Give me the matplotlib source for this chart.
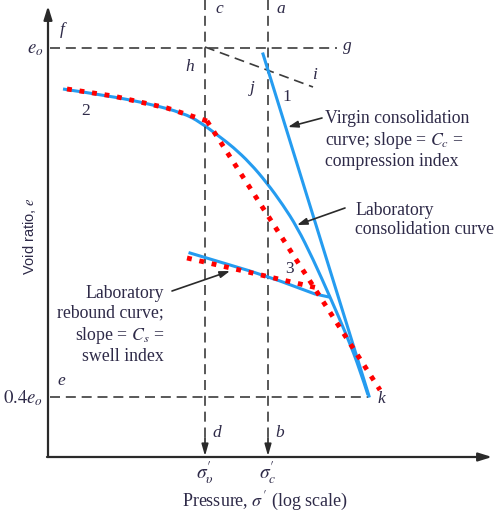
import matplotlib
matplotlib.use("Agg")
import matplotlib.pyplot as plt
from matplotlib.path import Path
from matplotlib.patches import PathPatch

plt.rcParams['mathtext.fontset'] = 'stix'
SERIF = ['Liberation Serif', 'DejaVu Serif']
SANS = ['Liberation Sans', 'DejaVu Sans']

# ---- diagram data (diagram units: x = log pressure position, y = downward void-ratio position) ----
axis_origin = (48, 457)
axis_x_end = 492
axis_y_end = 6

eo_level = 48
e04_level = 397
sigma_v_x = 205
sigma_c_x = 268

# laboratory consolidation curve (blue) - control points of a smooth curve
lab_x = [63, 110, 150, 183, 200, 220, 233, 250, 267, 283, 297, 313, 330, 347, 360, 368]
lab_y = [89, 96, 104, 113, 122, 137, 147, 163, 183, 205, 227, 259, 297, 336, 370, 395]

# virgin consolidation line (blue)
virgin_x = [263, 369]
virgin_y = [54, 396]

# laboratory rebound curve (blue)
rebound_x = [190, 250, 280, 315, 329]
rebound_y = [253, 271, 281, 294, 297]

# Casagrande construction (red dotted)
red_curve_x = [67, 113, 167, 207]
red_curve_y = [89, 96, 108, 121]
red_line_x = [207, 380]
red_line_y = [121, 390]
red_reb_x = [187, 322]
red_reb_y = [258, 289]

# h-i tangent (dashed)
hi_x = [205, 313]
hi_y = [47, 87]

fig = plt.figure(figsize=(5, 5.12), dpi=100)
ax = fig.add_axes([0, 0, 1, 1])
ax.set_xlim(0, 500)
ax.set_ylim(512, 0)
ax.axis('off')

DASH_COL = '#3c3c3c'
BLUE = '#259cf0'
RED = '#ff0000'
TXT = '#2e2a48'

# axes with arrows
ax.annotate('', xy=(axis_origin[0], axis_y_end), xytext=axis_origin,
            arrowprops=dict(arrowstyle='-|>,head_length=0.8,head_width=0.25', color='#2a2a2a', lw=1.6, shrinkA=0, shrinkB=0))
ax.annotate('', xy=(axis_x_end, axis_origin[1]), xytext=(axis_origin[0] - 1, axis_origin[1]),
            arrowprops=dict(arrowstyle='-|>,head_length=0.8,head_width=0.25', color='#2a2a2a', lw=1.6, shrinkA=0, shrinkB=0))

dash = (0, (6, 3.5))
ax.plot([50, 337], [eo_level, eo_level], color=DASH_COL, lw=1.2, linestyle=dash)
ax.plot([50, 368], [e04_level, e04_level], color=DASH_COL, lw=1.2, linestyle=dash)
for xv in (sigma_v_x, sigma_c_x):
    ax.plot([xv, xv], [0, 442], color=DASH_COL, lw=1.2, linestyle=dash)
    ax.annotate('', xy=(xv, 456), xytext=(xv, 438),
                arrowprops=dict(arrowstyle='-|>,head_length=0.7,head_width=0.2', color='#2a2a2a', lw=1.2, shrinkA=0, shrinkB=0))
ax.plot(hi_x, hi_y, color=DASH_COL, lw=1.2, linestyle=dash)

# blue laboratory curve: quadratic Bezier chain through midpoints of control points
pts = list(zip(lab_x, lab_y))
verts = [pts[0]]
codes = [Path.MOVETO]
for i in range(1, len(pts) - 1):
    mid = ((pts[i][0] + pts[i + 1][0]) / 2, (pts[i][1] + pts[i + 1][1]) / 2)
    if i == len(pts) - 2:
        mid = pts[-1]
    verts += [pts[i], mid]
    codes += [Path.CURVE3, Path.CURVE3]
ax.add_patch(PathPatch(Path(verts, codes), facecolor='none', edgecolor=BLUE, lw=2.2))

ax.plot(virgin_x, virgin_y, color=BLUE, lw=2.2)
ax.plot(rebound_x, rebound_y, color=BLUE, lw=2.2, solid_joinstyle='round')

# red dotted construction
dots = (0, (1, 1.6))
for xs, ys in ((red_curve_x, red_curve_y), (red_line_x, red_line_y), (red_reb_x, red_reb_y)):
    ax.plot(xs, ys, color=RED, lw=3.5, linestyle=dots, dash_capstyle='butt')

# point labels
it = dict(fontfamily=SERIF, fontstyle='italic', color=TXT, fontsize=12.5)
ax.text(215, 9, 'c', ha='left', va='center', **it)
ax.text(276, 9, 'a', ha='left', va='center', **it)
ax.text(60, 30, 'f', ha='left', va='center', **it)
ax.text(343, 46, 'g', ha='left', va='center', **it)
ax.text(190, 67, 'h', ha='center', va='center', **it)
ax.text(252, 88, 'j', ha='center', va='center', **it)
ax.text(314, 75, 'i', ha='center', va='center', **it)
ax.text(57, 381, 'e', ha='left', va='center', **it)
ax.text(378, 399, 'k', ha='left', va='center', **it)
ax.text(212, 433, 'd', ha='left', va='center', **it)
ax.text(275, 433, 'b', ha='left', va='center', **it)

num = dict(fontfamily=SERIF, color=TXT, fontsize=12.5, ha='center', va='center')
ax.text(287, 97, '1', **num)
ax.text(86, 111, '2', **num)
ax.text(290, 269, '3', **num)

ax.text(43, 48, r'$e_o$', ha='right', va='center', color=TXT, fontsize=13.5)
ax.text(43, 398, r'$0.4e_o$', ha='right', va='center', color=TXT, fontsize=13.5)

ax.text(sigma_v_x, 473, r"$\sigma_{\upsilon}^{\prime}$", ha='center', va='center', color=TXT, fontsize=14)
ax.text(sigma_c_x, 473, r"$\sigma_{c}^{\prime}$", ha='center', va='center', color=TXT, fontsize=14)

ax.text(265, 501, r"Pressure, $\sigma^{\prime}$ (log scale)", ha='center', va='center',
        fontfamily=SERIF, color=TXT, fontsize=13)
ax.text(30, 236, 'Void ratio, $e$', ha='center', va='center', rotation=90,
        fontfamily=SANS, color=TXT, fontsize=10.5)

tx = dict(fontfamily=SERIF, color=TXT, fontsize=12.8, linespacing=1.2)
ax.text(325, 140, 'Virgin consolidation\ncurve; slope = $C_c$ =\ncompression index',
        ha='left', va='center', **tx)
ax.annotate('', xy=(288, 127), xytext=(322, 118),
            arrowprops=dict(arrowstyle='-|>,head_length=0.6,head_width=0.2', color='#2a2a2a', lw=1.2, shrinkA=0, shrinkB=0))
ax.text(355, 220, 'Laboratory\nconsolidation curve', ha='left', va='center', **tx)
ax.annotate('', xy=(297, 225), xytext=(345, 208),
            arrowprops=dict(arrowstyle='-|>,head_length=0.6,head_width=0.2', color='#2a2a2a', lw=1.2, shrinkA=0, shrinkB=0))
ax.text(164, 325, 'Laboratory\nrebound curve;\nslope = $C_s$ =\nswell index', ha='right', va='center', **tx)
ax.annotate('', xy=(230, 271), xytext=(172, 291),
            arrowprops=dict(arrowstyle='-|>,head_length=0.6,head_width=0.2', color='#2a2a2a', lw=1.2, shrinkA=0, shrinkB=0))

fig.savefig('out.png', dpi=100)
